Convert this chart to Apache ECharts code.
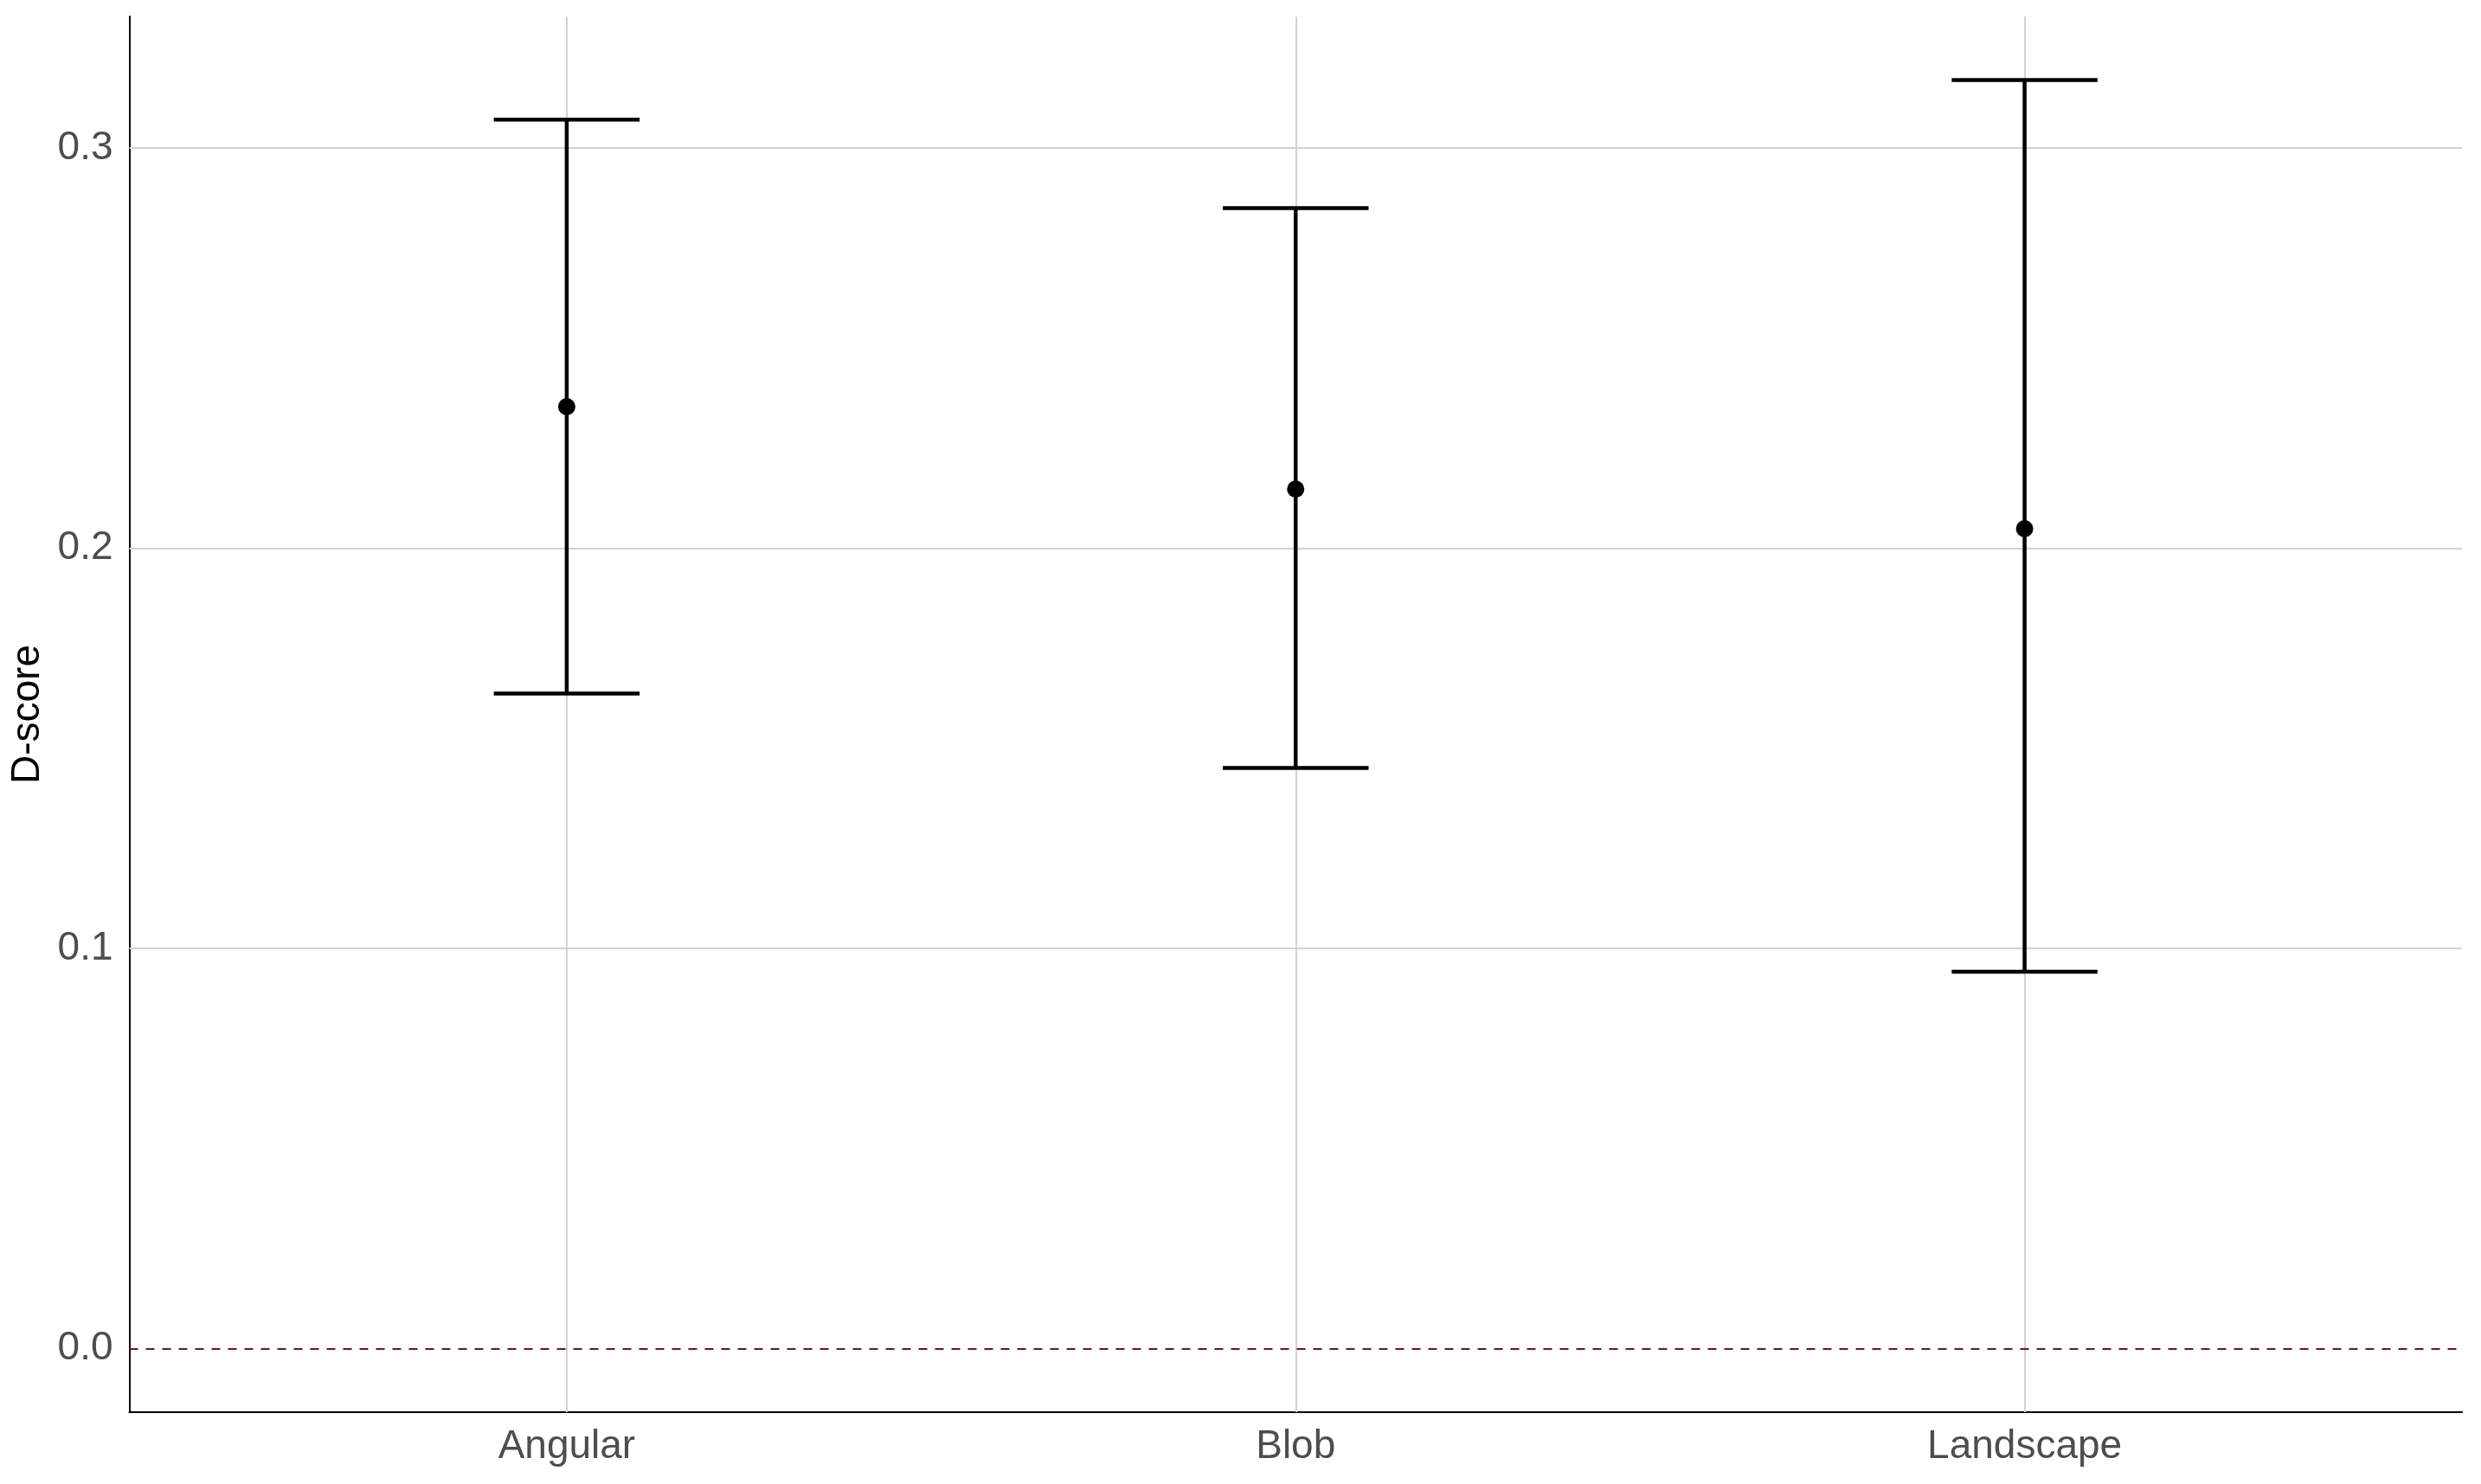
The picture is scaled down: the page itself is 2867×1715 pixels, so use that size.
<!DOCTYPE html>
<html>
<head>
<meta charset="utf-8">
<script src="https://cdn.jsdelivr.net/npm/echarts@6/dist/echarts.min.js"></script>
<style>html,body{margin:0;padding:0;background:#fff;}#c{width:2867px;height:1715px;}</style>
</head>
<body>
<div id="c"></div>
<script>
// ---- data ----
const categories = ['Angular', 'Blob', 'Landscape'];
const means = [0.2354, 0.2148, 0.2049];
const lower = [0.1637, 0.1451, 0.0942];
const upper = [0.3071, 0.2850, 0.3170];
const yTicks = [0.0, 0.1, 0.2, 0.3];
const refLine = 0;

const catIdx = categories.map((c, i) => i);
const errData = catIdx.map(i => [i, lower[i], upper[i]]);
const pointData = catIdx.map(i => [i, means[i]]);

const gridColor = '#d2d2d2';
const markData = [];
catIdx.forEach(i => markData.push({ xAxis: i, lineStyle: { color: gridColor, width: 2, type: 'solid' } }));
yTicks.filter(v => v !== refLine).forEach(v => markData.push({ yAxis: v, lineStyle: { color: gridColor, width: 2, type: 'solid' } }));
markData.push({ yAxis: refLine, lineStyle: { color: '#6a1818', width: 2, type: [10, 9] } });

const chart = echarts.init(document.getElementById('c'), null, { renderer: 'canvas' });
chart.setOption({
  animation: false,
  backgroundColor: '#ffffff',
  grid: { left: 149.5, right: 22, top: 19, bottom: 83, containLabel: false },
  xAxis: {
    type: 'value', min: -0.6, max: 2.6,
    axisLine: { show: true, onZero: false, lineStyle: { color: '#000', width: 2 } },
    axisTick: { show: false },
    splitLine: { show: false },
    axisLabel: {
      customValues: catIdx,
      formatter: v => categories[Math.round(v)] || '',
      fontFamily: 'Liberation Sans', fontSize: 46, color: '#4d4d4d', margin: 17
    }
  },
  yAxis: {
    type: 'value', min: -0.01585, max: 0.3329,
    name: 'D-score', nameLocation: 'middle', nameGap: 92, nameRotate: 90,
    nameTextStyle: { fontFamily: 'Liberation Sans', fontSize: 46, color: '#000' },
    axisLine: { show: true, onZero: false, lineStyle: { color: '#000', width: 2 } },
    axisTick: { show: false },
    splitLine: { show: false },
    axisLabel: {
      customValues: yTicks,
      formatter: v => v.toFixed(1),
      fontFamily: 'Liberation Sans', fontSize: 46, color: '#4d4d4d', margin: 19
    }
  },
  series: [
    {
      type: 'line', data: [], z: 1, silent: true,
      markLine: { z: 1, silent: true, symbol: ['none', 'none'], label: { show: false }, animation: false, data: markData }
    },
    {
      type: 'custom', z: 4,
      data: errData,
      renderItem: function (params, api) {
        const x = api.value(0);
        const lo = api.coord([x, api.value(1)]);
        const hi = api.coord([x, api.value(2)]);
        const left = api.coord([x - 0.1, api.value(1)])[0];
        const right = api.coord([x + 0.1, api.value(1)])[0];
        const st = { stroke: '#000', lineWidth: 4.5 };
        return {
          type: 'group',
          children: [
            { type: 'line', shape: { x1: lo[0], y1: lo[1], x2: hi[0], y2: hi[1] }, style: st },
            { type: 'line', shape: { x1: left, y1: hi[1], x2: right, y2: hi[1] }, style: st },
            { type: 'line', shape: { x1: left, y1: lo[1], x2: right, y2: lo[1] }, style: st }
          ]
        };
      }
    },
    {
      type: 'scatter', z: 6, data: pointData, symbol: 'circle', symbolSize: 20,
      itemStyle: { color: '#000', opacity: 1 }
    }
  ]
});
</script>
</body>
</html>
